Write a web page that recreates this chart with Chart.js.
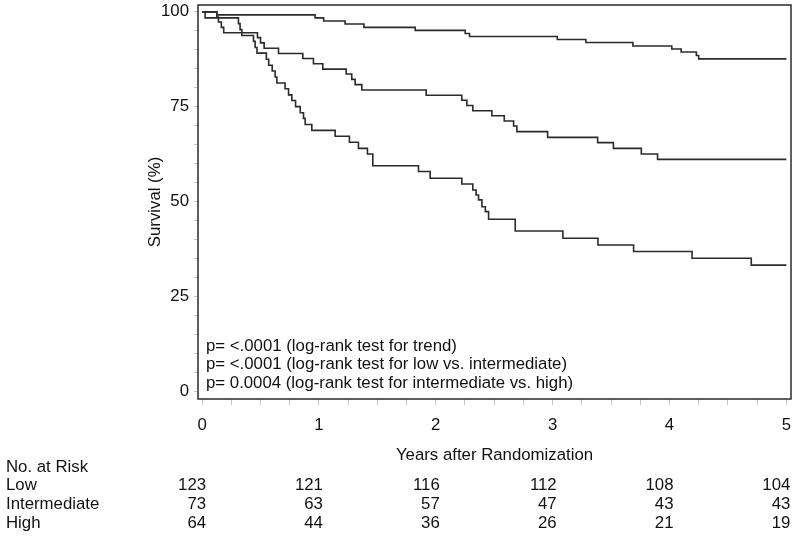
<!DOCTYPE html>
<html>
<head>
<meta charset="utf-8">
<script src="https://cdn.jsdelivr.net/npm/chart.js@4.4.0/dist/chart.umd.min.js"></script>
<style>
  html, body { margin: 0; padding: 0; background: #fff; }
  #wrap { width: 800px; height: 537px; position: relative; }
</style>
</head>
<body>
<div id="wrap"><canvas id="km"></canvas></div>
<script>
// Kaplan-Meier survival by risk group
const lowTimes = [0, 0.126, 0.967, 1.04, 1.224, 1.385, 1.824, 2.252, 2.289, 3.04, 3.285, 3.687, 4.02, 4.10, 4.23, 4.25, 5.0];
const lowSurv  = [100, 99.2, 98.4, 97.6, 96.8, 95.9, 95.1, 94.3, 93.5, 92.7, 91.9, 91.0, 90.2, 89.4, 88.5, 87.6, 87.6];

const intTimes = [0, 0.126, 0.14, 0.165, 0.185, 0.474, 0.50, 0.531, 0.654, 0.862, 0.953, 1.033, 1.233, 1.281, 1.31, 1.367, 1.918, 2.223, 2.266, 2.317, 2.48, 2.586, 2.666, 2.694, 2.957, 3.385, 3.52, 3.759, 3.898, 5.0];
const intSurv  = [100, 98.6, 97.3, 95.9, 94.5, 93.2, 91.8, 90.4, 89.0, 87.7, 86.3, 84.9, 83.6, 82.2, 80.8, 79.4, 78.0, 76.7, 75.3, 73.9, 72.6, 71.2, 69.9, 68.4, 66.9, 65.5, 64.0, 62.5, 61.1, 61.1];

const highTimes = [0, 0.026, 0.311, 0.325, 0.34, 0.44, 0.454, 0.47, 0.55, 0.57, 0.60, 0.625, 0.64, 0.71, 0.74, 0.768, 0.80, 0.84, 0.868, 0.882, 0.939, 1.139, 1.261, 1.338, 1.415, 1.461, 1.852, 1.952, 2.223, 2.317, 2.345, 2.366, 2.395, 2.424, 2.452, 2.68, 3.088, 3.388, 3.693, 4.193, 4.70, 5.0];
const highSurv  = [100, 98.4, 96.9, 95.3, 93.75, 92.2, 90.6, 89.1, 87.5, 85.9, 84.4, 82.8, 81.25, 79.7, 78.1, 76.6, 75.0, 73.4, 71.9, 70.3, 68.75, 67.2, 65.6, 64.0, 62.5, 59.4, 57.9, 56.1, 54.6, 53.0, 51.7, 50.4, 48.6, 47.3, 45.3, 42.2, 40.3, 38.5, 36.8, 35.0, 33.2, 33.2];

const years = [0, 1, 2, 3, 4, 5];
const survTicks = [0, 25, 50, 75, 100];
const groupNames = ['Low', 'Intermediate', 'High'];
const riskLow  = [123, 121, 116, 112, 108, 104];
const riskInt  = [73, 63, 57, 47, 43, 43];
const riskHigh = [64, 44, 36, 26, 21, 19];
const pTexts = [
  'p= <.0001 (log-rank test for trend)',
  'p= <.0001 (log-rank test for low vs. intermediate)',
  'p= 0.0004 (log-rank test for intermediate vs. high)'
];

const FONT = '"Liberation Sans", Arial, sans-serif';
const FSIZE = 16.8;
Chart.defaults.font.family = FONT;
Chart.defaults.font.size = FSIZE;
Chart.defaults.color = '#111';

function toPoints(ts, ss) {
  return ts.map((t, i) => ({ x: t, y: ss[i] }));
}

function curve(ts, ss) {
  return {
    data: toPoints(ts, ss),
    showLine: true,
    stepped: true,
    borderColor: '#2b2b2b',
    borderWidth: 1.6,
    pointRadius: 0,
    fill: false
  };
}

const extras = {
  id: 'extras',
  afterDraw(chart) {
    const { ctx, chartArea: a, scales } = chart;
    const xs = scales.x;
    ctx.save();
    // frame
    ctx.strokeStyle = '#2b2b2b';
    ctx.lineWidth = 1.5;
    ctx.strokeRect(a.left, a.top, a.right - a.left, a.bottom - a.top);

    ctx.fillStyle = '#111';
    ctx.font = FSIZE + 'px ' + FONT;

    // axis titles
    ctx.textAlign = 'center';
    ctx.textBaseline = 'middle';
    ctx.fillText('Years after Randomization', (a.left + a.right) / 2, 455);
    ctx.save();
    ctx.translate(155, (a.top + a.bottom) / 2);
    ctx.rotate(-Math.PI / 2);
    ctx.fillText('Survival (%)', 0, 0);
    ctx.restore();

    // p-values
    ctx.textAlign = 'left';
    pTexts.forEach((t, i) => ctx.fillText(t, 206, 346 + i * 18.5));

    // number at risk
    ctx.fillText('No. at Risk', 6, 467);
    const rows = [riskLow, riskInt, riskHigh];
    groupNames.forEach((g, i) => {
      const y = 485.5 + i * 18.7;
      ctx.textAlign = 'left';
      ctx.fillText(g, 6, y);
      ctx.textAlign = 'right';
      rows[i].forEach((n, j) => ctx.fillText(String(n), xs.getPixelForValue(years[j]) + 4, y));
    });
    ctx.restore();
  }
};

new Chart(document.getElementById('km'), {
  type: 'scatter',
  data: {
    datasets: [
      curve(lowTimes, lowSurv),
      curve(intTimes, intSurv),
      curve(highTimes, highSurv)
    ]
  },
  options: {
    responsive: true,
    maintainAspectRatio: false,
    animation: false,
    layout: { padding: { left: 0, top: 5, right: 9, bottom: 0 } },
    plugins: { legend: { display: false }, tooltip: { enabled: false } },
    scales: {
      x: {
        type: 'linear',
        min: -0.035,
        max: 5.04,
        afterBuildTicks: s => {
          s.ticks = [];
          for (let v = 0; v <= 5; v += 0.25) s.ticks.push({ value: v });
        },
        afterFit: s => {
          s.height = 138;
          s.paddingLeft = 0;
          s.paddingRight = 0;
        },
        ticks: {
          autoSkip: false,
          maxRotation: 0,
          padding: 10,
          callback: v => (years.includes(v) ? String(v) : '')
        },
        grid: { drawOnChartArea: false, drawTicks: true, tickLength: 6, color: '#c8c8c8' },
        border: { display: false }
      },
      y: {
        min: -2.1,
        max: 101.8,
        afterBuildTicks: s => {
          s.ticks = [];
          for (let v = 0; v <= 100; v += 5) s.ticks.push({ value: v });
        },
        afterFit: s => {
          s.width = 198;
          s.paddingTop = 0;
          s.paddingBottom = 0;
        },
        ticks: {
          autoSkip: false,
          padding: 5,
          callback: v => (survTicks.includes(v) ? String(v) : '')
        },
        grid: { drawOnChartArea: false, drawTicks: true, tickLength: 4, color: '#c8c8c8' },
        border: { display: false }
      }
    }
  },
  plugins: [extras]
});
</script>
</body>
</html>
